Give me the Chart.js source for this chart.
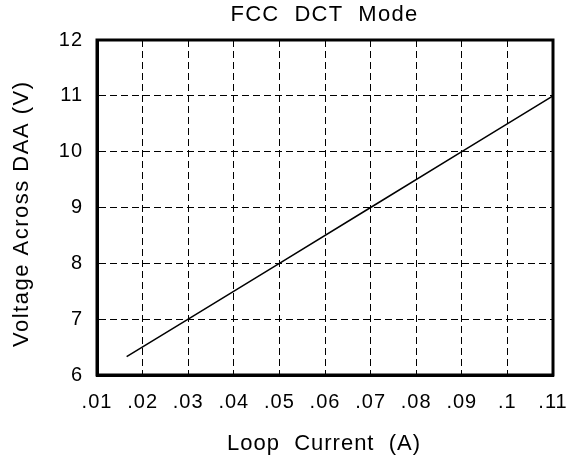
<!DOCTYPE html>
<html>
<head>
<meta charset="utf-8">
<script src="https://cdn.jsdelivr.net/npm/chart.js@4/dist/chart.umd.min.js"></script>
<style>
  html, body { margin: 0; padding: 0; background: #fff; }
  #wrap { width: 567px; height: 457px; }
</style>
</head>
<body>
<div id="wrap"><canvas id="chart"></canvas></div>
<script>
// values
const loopCurrent = [0.0165, 0.03, 0.05, 0.07, 0.09, 0.11];
const voltage = [6.33, 7, 8, 9, 10, 11];
const xTicks = [0.01, 0.02, 0.03, 0.04, 0.05, 0.06, 0.07, 0.08, 0.09, 0.1, 0.11];
const yTicks = [6, 7, 8, 9, 10, 11, 12];

const titleText = "FCC  DCT  Mode";
const xTitleText = "Loop  Current  (A)";
const yTitleText = "Voltage Across DAA (V)";

const font = "'Liberation Sans', Arial, sans-serif";

// frame round the plot area, plus the spaced-out titles
const framePlugin = {
    id: "frame",
    beforeDraw(chart) {
        chart.ctx.letterSpacing = "1px";
    },
    afterDraw(chart) {
        const a = chart.chartArea;
        const ctx = chart.ctx;
        ctx.save();
        ctx.strokeStyle = "#000";
        ctx.lineWidth = 3;
        ctx.strokeRect(a.left, a.top, a.right - a.left, a.bottom - a.top);

        ctx.fillStyle = "#000";
        ctx.textAlign = "center";
        ctx.textBaseline = "alphabetic";
        ctx.font = "22px " + font;

        ctx.letterSpacing = "1.3px";
        ctx.fillText(titleText, 324.5, 21);

        ctx.letterSpacing = "1px";
        ctx.fillText(xTitleText, 324, 450);

        ctx.letterSpacing = "1.5px";
        ctx.translate(28, 214.5);
        ctx.rotate(-Math.PI / 2);
        ctx.fillText(yTitleText, 0.75, 0);
        ctx.restore();
    },
};

const ctx = document.getElementById("chart").getContext("2d");
new Chart(ctx, {
    type: "scatter",
    data: {
        datasets: [
            {
                data: loopCurrent.map((x, i) => ({ x: x, y: voltage[i] })),
                showLine: true,
                borderColor: "#000",
                borderWidth: 1.5,
                pointRadius: 0,
                fill: false,
            },
        ],
    },
    options: {
        responsive: true,
        maintainAspectRatio: false,
        animation: false,
        layout: { padding: { top: 40, left: 0, right: 14, bottom: 0 } },
        plugins: {
            legend: { display: false },
            tooltip: { enabled: false },
            title: { display: false },
        },
        scales: {
            x: {
                type: "linear",
                min: 0.01,
                max: 0.11,
                afterBuildTicks: (scale) => {
                    scale.ticks = xTicks.map((v) => ({ value: v }));
                },
                afterFit: (scale) => {
                    scale.height = 82;
                    scale.paddingLeft = 0;
                    scale.paddingRight = 0;
                },
                ticks: {
                    color: "#000",
                    font: { family: font, size: 20 },
                    padding: 15,
                    maxRotation: 0,
                    autoSkip: false,
                    callback: (v) => String(+v.toFixed(2)).replace(/^0/, ""),
                },
                grid: { color: "#000", lineWidth: 1, drawTicks: false },
                border: { display: true, color: "#000", width: 3, dash: [7, 4] },
            },
            y: {
                min: 6,
                max: 12,
                afterBuildTicks: (scale) => {
                    scale.ticks = yTicks.map((v) => ({ value: v }));
                },
                afterFit: (scale) => {
                    scale.width = 97;
                    scale.paddingTop = 0;
                    scale.paddingBottom = 0;
                },
                ticks: {
                    color: "#000",
                    font: { family: font, size: 20 },
                    padding: 14,
                },
                grid: { color: "#000", lineWidth: 1, drawTicks: false },
                border: { display: true, color: "#000", width: 3, dash: [7, 4] },
            },
        },
    },
    plugins: [framePlugin],
});
</script>
</body>
</html>
